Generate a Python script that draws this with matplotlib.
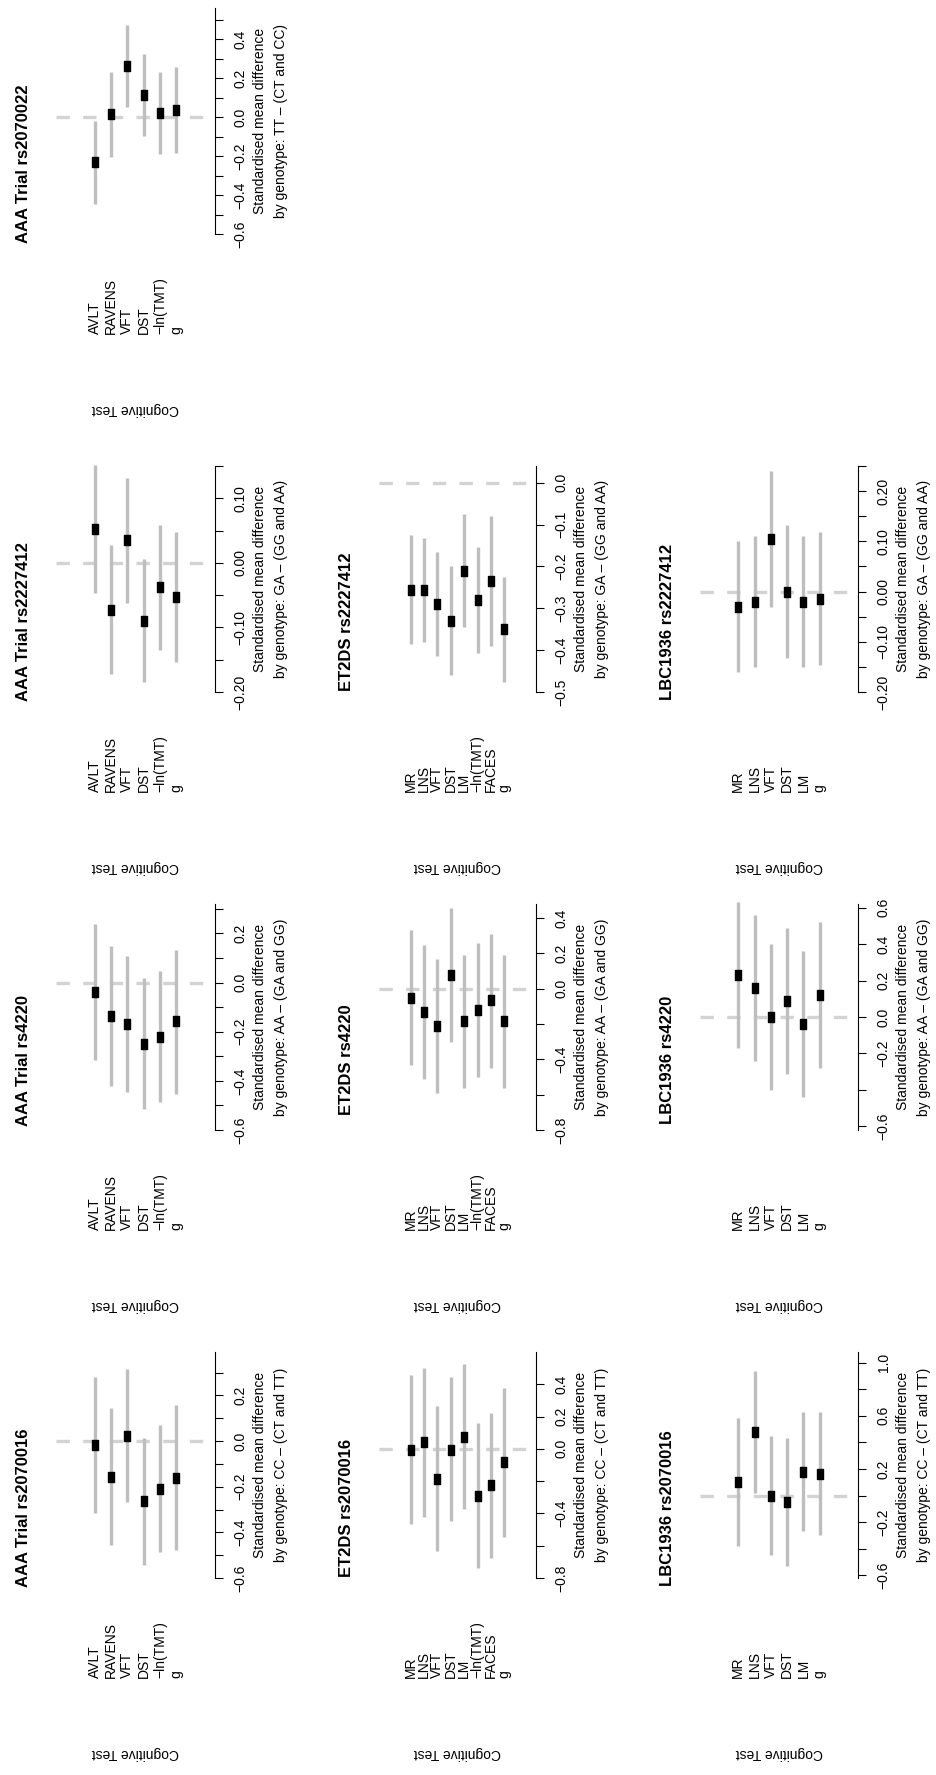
import numpy as np
import matplotlib
matplotlib.use("Agg")
import matplotlib.pyplot as plt
import matplotlib.transforms as mtransforms
from matplotlib.path import Path

plt.rcParams["font.family"] = ["Liberation Sans", "DejaVu Sans"]

W, H = 937, 1775

# cognitive tests per cohort
AAA_TESTS = ["AVLT", "RAVENS", "VFT", "DST", "\u2212ln(TMT)", "g"]
ET2DS_TESTS = ["MR", "LNS", "VFT", "DST", "LM", "\u2212ln(TMT)", "FACES", "g"]
LBC_TESTS = ["MR", "LNS", "VFT", "DST", "LM", "g"]

# standardised mean differences and 95% CI limits
AAA_RS2070016_EST = [-0.019, -0.156, 0.022, -0.264, -0.210, -0.162]
AAA_RS2070016_LO = [-0.316, -0.456, -0.268, -0.545, -0.488, -0.479]
AAA_RS2070016_HI = [0.280, 0.146, 0.314, 0.015, 0.070, 0.156]

AAA_RS4220_EST = [-0.040, -0.135, -0.167, -0.250, -0.220, -0.158]
AAA_RS4220_LO = [-0.315, -0.420, -0.445, -0.515, -0.486, -0.452]
AAA_RS4220_HI = [0.240, 0.150, 0.110, 0.017, 0.046, 0.133]

AAA_RS2227412_EST = [0.052, -0.073, 0.035, -0.090, -0.038, -0.053]
AAA_RS2227412_LO = [-0.047, -0.172, -0.062, -0.185, -0.135, -0.154]
AAA_RS2227412_HI = [0.151, 0.027, 0.132, 0.006, 0.059, 0.048]

AAA_RS2070022_EST = [-0.230, 0.015, 0.263, 0.114, 0.020, 0.036]
AAA_RS2070022_LO = [-0.445, -0.204, 0.054, -0.098, -0.190, -0.185]
AAA_RS2070022_HI = [-0.018, 0.234, 0.474, 0.324, 0.231, 0.258]

ET2DS_RS2070016_EST = [-0.004, 0.040, -0.186, -0.004, 0.076, -0.290, -0.226, -0.084]
ET2DS_RS2070016_LO = [-0.466, -0.420, -0.634, -0.450, -0.374, -0.740, -0.676, -0.544]
ET2DS_RS2070016_HI = [0.460, 0.500, 0.264, 0.446, 0.526, 0.160, 0.220, 0.376]

ET2DS_RS4220_EST = [-0.050, -0.130, -0.210, 0.080, -0.184, -0.120, -0.066, -0.184]
ET2DS_RS4220_LO = [-0.430, -0.510, -0.590, -0.300, -0.560, -0.500, -0.450, -0.560]
ET2DS_RS4220_HI = [0.330, 0.250, 0.170, 0.460, 0.190, 0.260, 0.310, 0.190]

ET2DS_RS2227412_EST = [-0.256, -0.256, -0.290, -0.330, -0.210, -0.280, -0.235, -0.350]
ET2DS_RS2227412_LO = [-0.386, -0.381, -0.415, -0.460, -0.345, -0.407, -0.390, -0.475]
ET2DS_RS2227412_HI = [-0.126, -0.131, -0.165, -0.200, -0.075, -0.153, -0.080, -0.225]

LBC_RS2070016_EST = [0.100, 0.480, 0.000, -0.050, 0.180, 0.165]
LBC_RS2070016_LO = [-0.380, 0.020, -0.450, -0.530, -0.270, -0.300]
LBC_RS2070016_HI = [0.580, 0.940, 0.450, 0.430, 0.630, 0.630]

LBC_RS4220_EST = [0.230, 0.160, 0.000, 0.090, -0.040, 0.120]
LBC_RS4220_LO = [-0.170, -0.240, -0.400, -0.310, -0.440, -0.280]
LBC_RS4220_HI = [0.630, 0.560, 0.400, 0.490, 0.360, 0.520]

LBC_RS2227412_EST = [-0.030, -0.020, 0.105, 0.000, -0.020, -0.014]
LBC_RS2227412_LO = [-0.160, -0.150, -0.030, -0.133, -0.150, -0.147]
LBC_RS2227412_HI = [0.100, 0.110, 0.240, 0.133, 0.110, 0.119]

# axis per panel: (lower limit, upper limit, tick step, first tick, last tick, labelled ticks)
AXIS = {
    ("AAA", "rs2070016"): (-0.60, 0.39, 0.1, -0.6, 0.3, [-0.6, -0.4, -0.2, 0.0, 0.2]),
    ("AAA", "rs4220"): (-0.60, 0.32, 0.1, -0.6, 0.3, [-0.6, -0.4, -0.2, 0.0, 0.2]),
    ("AAA", "rs2227412"): (-0.20, 0.15, 0.05, -0.20, 0.15, [-0.20, -0.10, 0.00, 0.10]),
    ("AAA", "rs2070022"): (-0.60, 0.56, 0.1, -0.6, 0.5, [-0.6, -0.4, -0.2, 0.0, 0.2, 0.4]),
    ("ET2DS", "rs2070016"): (-0.80, 0.60, 0.2, -0.8, 0.4, [-0.8, -0.4, 0.0, 0.2, 0.4]),
    ("ET2DS", "rs4220"): (-0.80, 0.48, 0.2, -0.8, 0.4, [-0.8, -0.4, 0.0, 0.2, 0.4]),
    ("ET2DS", "rs2227412"): (-0.50, 0.04, 0.1, -0.5, 0.0, [-0.5, -0.4, -0.3, -0.2, -0.1, 0.0]),
    ("LBC", "rs2070016"): (-0.62, 1.08, 0.2, -0.6, 1.0, [-0.6, -0.2, 0.2, 0.6, 1.0]),
    ("LBC", "rs4220"): (-0.62, 0.62, 0.2, -0.6, 0.6, [-0.6, -0.2, 0.0, 0.2, 0.4, 0.6]),
    ("LBC", "rs2227412"): (-0.20, 0.25, 0.05, -0.20, 0.25, [-0.20, -0.10, 0.00, 0.10, 0.20]),
}

GENO_RS2070016 = "CC \u2013 (CT and TT)"
GENO_RS4220 = "AA \u2013 (GA and GG)"
GENO_RS2227412 = "GA \u2013 (GG and AA)"
GENO_RS2070022 = "TT \u2013 (CT and CC)"

COHORT_NAME = {"AAA": "AAA Trial", "ET2DS": "ET2DS", "LBC": "LBC1936"}
COHORT_TESTS = {"AAA": AAA_TESTS, "ET2DS": ET2DS_TESTS, "LBC": LBC_TESTS}

# page geometry in pixels: left edge of plot region and axis line x per cohort,
# top of plot region per SNP row (bottom row first)
COL_GEOM = {"AAA": (56, 215), "ET2DS": (379, 536), "LBC": (700, 858)}
ROW_TOP = [1352, 904, 466, 8]
PLOT_H = 226

# rectangle marker, taller than wide
RECT = Path([(-0.33, -0.5), (0.33, -0.5), (0.33, 0.5), (-0.33, 0.5), (-0.33, -0.5)],
            [Path.MOVETO, Path.LINETO, Path.LINETO, Path.LINETO, Path.CLOSEPOLY])


def fmt(v, step):
    v = 0.0 if abs(v) < 1e-9 else v
    s = "%.2f" % v if step < 0.1 - 1e-9 else "%.1f" % v
    return s.replace("-", "\u2212")


def draw_panel(fig, cohort, row, snp, geno, est, lo, hi):
    left, spine = COL_GEOM[cohort]
    top = ROW_TOP[row]
    bottom = top + PLOT_H
    tests = COHORT_TESTS[cohort]
    n = len(tests)
    ylo, yhi, step, t0, t1, labelled = AXIS[(cohort, snp)]

    ax = fig.add_axes([left / W, 1 - bottom / H, (spine - left) / W, PLOT_H / H])
    ax.patch.set_alpha(0)
    ax.set_ylim(ylo, yhi)
    ax.set_xlim(-2.36, n - 1 + 2.36)

    x = np.arange(n)
    ax.axhline(0, color="#d3d3d3", lw=2.4, ls=(0, (4, 4)), zorder=1, clip_on=False)
    ax.vlines(x, lo, hi, color="#bebebe", lw=2.4, zorder=2, clip_on=False)
    ax.plot(x, est, ls="none", marker=RECT, ms=7, color="black", zorder=3, clip_on=False)

    for s in ["left", "top", "bottom"]:
        ax.spines[s].set_visible(False)
    ax.spines["right"].set_linewidth(0.8)
    ax.set_xticks([])
    ticks = np.round(np.arange(t0, t1 + step / 2, step), 3)
    ax.yaxis.tick_right()
    ax.set_yticks(ticks)
    lab_set = [round(v, 3) for v in labelled]
    ax.set_yticklabels([fmt(t, step) if round(t, 3) in lab_set else "" for t in ticks],
                       rotation=90, va="center", fontsize=10)
    ax.tick_params(axis="y", direction="out", length=6, width=0.8, pad=7.5)

    # axis title, two centred lines beside the tick labels
    ymid = 1 - (top + PLOT_H / 2) / H
    fig.text((spine + 45) / W, ymid, "Standardised mean difference",
             rotation=90, ha="center", va="center", fontsize=10)
    fig.text((spine + 66) / W, ymid, "by genotype: " + geno,
             rotation=90, ha="center", va="center", fontsize=10)

    # test names under the panel
    trans = mtransforms.blended_transform_factory(ax.transData, fig.transFigure)
    for i, t in enumerate(tests):
        fig.text(i, 1 - (top + 326) / H, t, transform=trans, rotation=90,
                 ha="center", va="bottom", fontsize=10)

    fig.text((left + spine) / 2 / W, 1 - (top + 401) / H, "Cognitive Test",
             rotation=180, ha="center", va="center", fontsize=10)
    fig.text((left - 32) / W, 1 - (top + 156) / H,
             COHORT_NAME[cohort] + " " + snp, rotation=90, ha="center",
             va="center", fontsize=12, fontweight="bold")


fig = plt.figure(figsize=(W / 100, H / 100), dpi=100)

draw_panel(fig, "AAA", 0, "rs2070016", GENO_RS2070016,
           AAA_RS2070016_EST, AAA_RS2070016_LO, AAA_RS2070016_HI)
draw_panel(fig, "ET2DS", 0, "rs2070016", GENO_RS2070016,
           ET2DS_RS2070016_EST, ET2DS_RS2070016_LO, ET2DS_RS2070016_HI)
draw_panel(fig, "LBC", 0, "rs2070016", GENO_RS2070016,
           LBC_RS2070016_EST, LBC_RS2070016_LO, LBC_RS2070016_HI)

draw_panel(fig, "AAA", 1, "rs4220", GENO_RS4220,
           AAA_RS4220_EST, AAA_RS4220_LO, AAA_RS4220_HI)
draw_panel(fig, "ET2DS", 1, "rs4220", GENO_RS4220,
           ET2DS_RS4220_EST, ET2DS_RS4220_LO, ET2DS_RS4220_HI)
draw_panel(fig, "LBC", 1, "rs4220", GENO_RS4220,
           LBC_RS4220_EST, LBC_RS4220_LO, LBC_RS4220_HI)

draw_panel(fig, "AAA", 2, "rs2227412", GENO_RS2227412,
           AAA_RS2227412_EST, AAA_RS2227412_LO, AAA_RS2227412_HI)
draw_panel(fig, "ET2DS", 2, "rs2227412", GENO_RS2227412,
           ET2DS_RS2227412_EST, ET2DS_RS2227412_LO, ET2DS_RS2227412_HI)
draw_panel(fig, "LBC", 2, "rs2227412", GENO_RS2227412,
           LBC_RS2227412_EST, LBC_RS2227412_LO, LBC_RS2227412_HI)

draw_panel(fig, "AAA", 3, "rs2070022", GENO_RS2070022,
           AAA_RS2070022_EST, AAA_RS2070022_LO, AAA_RS2070022_HI)

fig.savefig("out.png", dpi=100, facecolor="white")
